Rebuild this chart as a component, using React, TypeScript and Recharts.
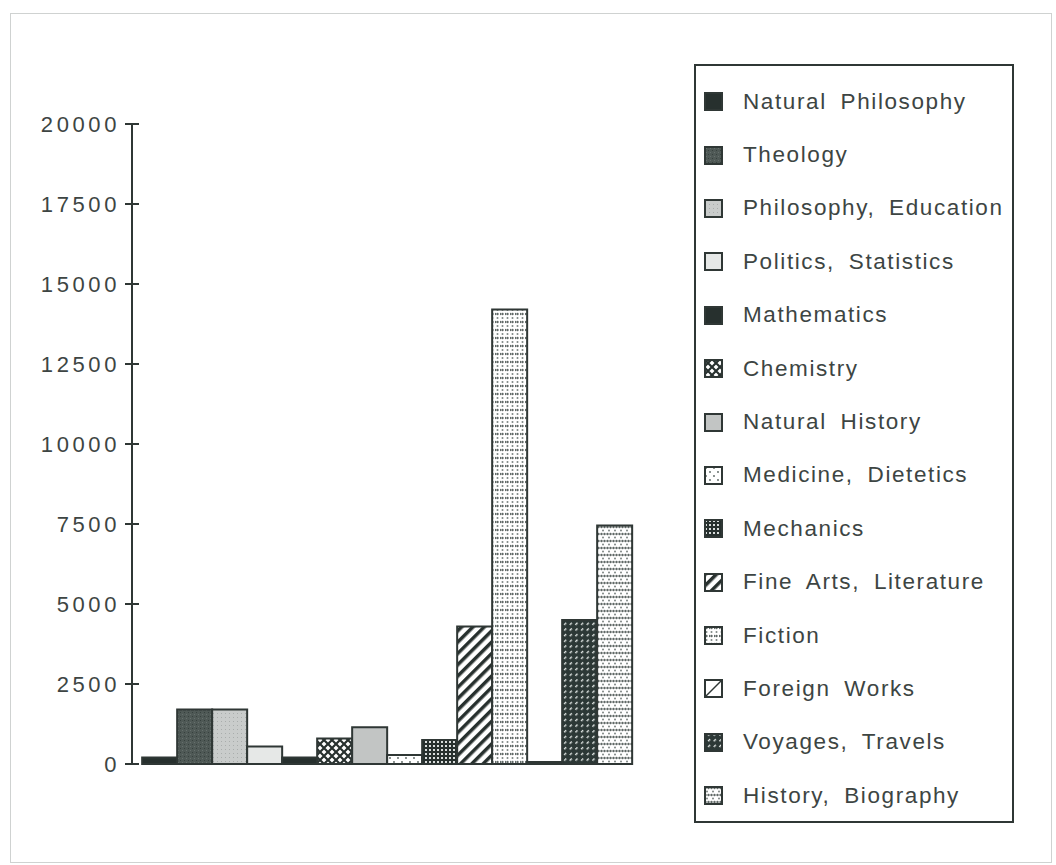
import { Bar, BarChart, XAxis, YAxis } from 'recharts';

const categories = [
  'Natural Philosophy',
  'Theology',
  'Philosophy, Education',
  'Politics, Statistics',
  'Mathematics',
  'Chemistry',
  'Natural History',
  'Medicine, Dietetics',
  'Mechanics',
  'Fine Arts, Literature',
  'Fiction',
  'Foreign Works',
  'Voyages, Travels',
  'History, Biography',
];

const volumes = [200, 1700, 1700, 550, 200, 800, 1150, 280, 750, 4300, 14200, 60, 4500, 7450];

const yTicks = [0, 2500, 5000, 7500, 10000, 12500, 15000, 17500, 20000];

const fills = [
  '#27302e',
  'url(#pTheology)',
  'url(#pPhilEd)',
  '#e6e8e7',
  '#27302e',
  'url(#pChem)',
  '#c2c5c4',
  'url(#pMedicine)',
  'url(#pMechanics)',
  'url(#pFineArts)',
  'url(#pFiction)',
  '#ffffff',
  'url(#pVoyages)',
  'url(#pHistory)',
];

const ink = '#2f3735';
const textColor = '#3d4543';

const row: Record<string, number | string> = { name: 'all' };
categories.forEach((c, i) => {
  row['s' + i] = volumes[i];
});
const data = [row];

function Patterns() {
  return (
    <defs>
      <pattern id="pTheology" width="4" height="4" patternUnits="userSpaceOnUse">
        <rect width="4" height="4" fill="#4f5956" />
        <rect x="0" y="0" width="1" height="1" fill="#36403d" />
        <rect x="2" y="2" width="1" height="1" fill="#66706d" />
      </pattern>
      <pattern id="pPhilEd" width="4" height="4" patternUnits="userSpaceOnUse">
        <rect width="4" height="4" fill="#c9cccb" />
        <rect x="1" y="1" width="1" height="1" fill="#a9adac" />
      </pattern>
      <pattern id="pChem" width="8" height="8" patternUnits="userSpaceOnUse">
        <rect width="8" height="8" fill="#ffffff" />
        <path d="M0 0 L8 8 M8 0 L0 8" stroke="#27302e" strokeWidth="2.2" />
      </pattern>
      <pattern id="pMedicine" width="8" height="8" patternUnits="userSpaceOnUse">
        <rect width="8" height="8" fill="#ffffff" />
        <circle cx="2" cy="2" r="0.9" fill="#55605d" />
        <circle cx="6" cy="6" r="0.9" fill="#55605d" />
      </pattern>
      <pattern id="pMechanics" width="4" height="4" patternUnits="userSpaceOnUse">
        <rect width="4" height="4" fill="#27302e" />
        <rect x="1" y="1" width="2" height="2" fill="#d9dddc" />
      </pattern>
      <pattern id="pFineArts" width="8" height="8" patternUnits="userSpaceOnUse" patternTransform="rotate(45)">
        <rect width="8" height="8" fill="#ffffff" />
        <rect x="0" y="0" width="3.5" height="8" fill="#27302e" />
      </pattern>
      <pattern id="pFiction" width="5" height="8" patternUnits="userSpaceOnUse">
        <rect width="5" height="8" fill="#ffffff" />
        <circle cx="2.5" cy="2" r="1.2" fill="#5f6866" />
        <circle cx="0" cy="2" r="1.2" fill="#5f6866" />
        <circle cx="2.5" cy="6" r="1" fill="#7d8583" />
      </pattern>
      <pattern id="pVoyages" width="8" height="8" patternUnits="userSpaceOnUse" patternTransform="rotate(45)">
        <rect width="8" height="8" fill="#2c3836" />
        <rect x="0" y="0" width="1.4" height="3" fill="#dfe4e2" />
        <rect x="4" y="4" width="1.4" height="3" fill="#dfe4e2" />
      </pattern>
      <pattern id="pHistory" width="6" height="7" patternUnits="userSpaceOnUse">
        <rect width="6" height="7" fill="#ffffff" />
        <circle cx="1.5" cy="2" r="1.2" fill="#5f6866" />
        <circle cx="4.5" cy="2" r="1.2" fill="#5f6866" />
        <circle cx="3" cy="5.5" r="1" fill="#7d8583" />
      </pattern>
    </defs>
  );
}

function CrossTick(props: any) {
  const { x, y, payload } = props;
  return (
    <g>
      <line x1={x - 7} x2={x + 7} y1={y} y2={y} stroke={ink} strokeWidth={2} />
      <text
        x={x - 12}
        y={y}
        textAnchor="end"
        dominantBaseline="central"
        fontFamily="'Liberation Sans', Arial, sans-serif"
        fontSize={22}
        letterSpacing={3.6}
        fill={textColor}
      >
        {payload.value}
      </text>
    </g>
  );
}

function LegendBox() {
  return (
    <div
      style={{
        position: 'absolute',
        left: 694,
        top: 64,
        width: 316,
        height: 746,
        border: `2px solid ${ink}`,
        paddingTop: 9,
        boxSizing: 'content-box',
      }}
    >
      {categories.map((c, i) => (
        <div
          key={c}
          style={{
            height: 53.4,
            display: 'flex',
            alignItems: 'center',
            fontFamily: "'Liberation Sans', Arial, sans-serif",
            fontSize: 22.5,
            letterSpacing: 1.6,
            wordSpacing: 6,
            color: textColor,
            whiteSpace: 'nowrap',
          }}
        >
          <svg width={19} height={19} style={{ marginLeft: 8, marginRight: 20, flex: 'none' }}>
            <rect x={1} y={1} width={17} height={17} fill={fills[i]} stroke={ink} strokeWidth={2} />
            {c === 'Foreign Works' && <line x1={2} y1={17} x2={17} y2={2} stroke={ink} strokeWidth={1.5} />}
          </svg>
          <span>{c}</span>
        </div>
      ))}
    </div>
  );
}

export default function App() {
  return (
    <div style={{ position: 'absolute', left: 0, top: 0, width: 1056, height: 865, background: '#fff' }}>
      <div
        style={{
          position: 'absolute',
          left: 10,
          top: 13,
          width: 1040,
          height: 848,
          border: '1px solid #cfd2d1',
        }}
      />
      <div style={{ position: 'absolute', left: 0, top: 0 }}>
        <BarChart
          width={1056}
          height={865}
          data={data}
          margin={{ top: 124, right: 416, bottom: 101, left: 7 }}
          barCategoryGap="2%"
          barGap={0}
        >
          <Patterns />
          <XAxis dataKey="name" height={0} tick={false} tickLine={false} axisLine={{ stroke: ink, strokeWidth: 2 }} />
          <YAxis
            width={125}
            domain={[0, 20000]}
            ticks={yTicks}
            interval={0}
            tickSize={0}
            tickMargin={0}
            tickLine={false}
            axisLine={{ stroke: ink, strokeWidth: 2 }}
            tick={<CrossTick />}
          />
          {categories.map((c, i) => (
            <Bar
              key={c}
              dataKey={'s' + i}
              name={c}
              fill={fills[i]}
              stroke={ink}
              strokeWidth={2}
              isAnimationActive={false}
            />
          ))}
        </BarChart>
      </div>
      <LegendBox />
    </div>
  );
}
